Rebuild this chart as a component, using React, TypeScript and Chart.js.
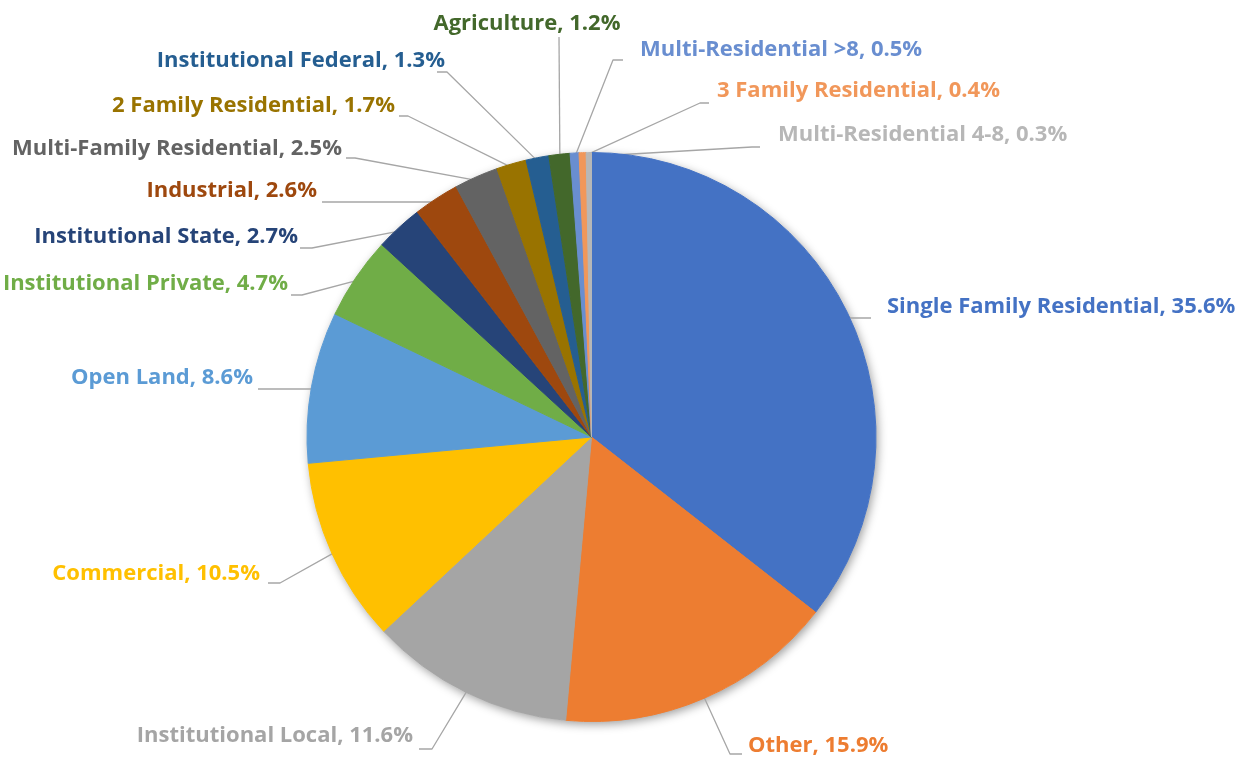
import React, { useEffect, useRef } from "react";
import { Chart, registerables } from "chart.js";

Chart.register(...registerables);

// ---- data ----
const categories: string[] = [
  "Single Family Residential",
  "Other",
  "Institutional Local",
  "Commercial",
  "Open Land",
  "Institutional Private",
  "Institutional State",
  "Industrial",
  "Multi-Family Residential",
  "2 Family Residential",
  "Institutional Federal",
  "Agriculture",
  "Multi-Residential >8",
  "3 Family Residential",
  "Multi-Residential 4-8",
];

const shares: number[] = [35.6, 15.9, 11.6, 10.5, 8.6, 4.7, 2.7, 2.6, 2.5, 1.7, 1.3, 1.2, 0.5, 0.4, 0.3];

const sliceColors: string[] = [
  "#4472C4",
  "#ED7D31",
  "#A5A5A5",
  "#FFC000",
  "#5B9BD5",
  "#70AD47",
  "#264478",
  "#9E480E",
  "#636363",
  "#997300",
  "#255E91",
  "#43682B",
  "#698ED0",
  "#F1975A",
  "#B7B7B7",
];

// ---- label layout (Excel-style manual placement), offsets from the pie centre ----
// align: text alignment; tx/by: text anchor x and baseline; ex/ey: leader elbow; lx: leader tail end
type Place = { align: CanvasTextAlign; tx: number; by: number; ex: number; ey: number; lx: number };
const labelPlacement: Place[] = [
  { align: "left", tx: 295.5, by: -124, ex: 259.5, ey: -119, lx: 279.5 },
  { align: "left", tx: 156.5, by: 315, ex: 138.5, ey: 317, lx: 150.5 },
  { align: "right", tx: -178.5, by: 305, ex: -159.5, ey: 312, lx: -172.5 },
  { align: "right", tx: -331.5, by: 143, ex: -311.5, ey: 146, lx: -323.5 },
  { align: "right", tx: -338.5, by: -53, ex: -280.5, ey: -48, lx: -333.5 },
  { align: "right", tx: -303.5, by: -147, ex: -289.5, ey: -142, lx: -300.5 },
  { align: "right", tx: -293.5, by: -194, ex: -279.5, ey: -189, lx: -291.5 },
  { align: "right", tx: -274.5, by: -240, ex: -159.5, ey: -235, lx: -269.5 },
  { align: "right", tx: -249.5, by: -282, ex: -236.5, ey: -279, lx: -245.5 },
  { align: "right", tx: -196.5, by: -325, ex: -183.5, ey: -321, lx: -192.5 },
  { align: "right", tx: -146.5, by: -370, ex: -144.5, ey: -365, lx: -154.5 },
  { align: "center", tx: -64.5, by: -407, ex: -32.5, ey: -400, lx: -32.5 },
  { align: "left", tx: 48.5, by: -381, ex: 21.5, ey: -377, lx: 31.5 },
  { align: "left", tx: 125.5, by: -340, ex: 108.5, ey: -334, lx: 117.5 },
  { align: "left", tx: 186.5, by: -296, ex: 160.5, ey: -290, lx: 168.5 },
];

const LABEL_FONT = "bold 22px 'Open Sans', Lato, sans-serif";

const excelLabels = {
  id: "excelLabels",
  beforeDatasetsDraw(chart: any) {
    const meta = chart.getDatasetMeta(0);
    if (!meta.data.length) return;
    const { x, y, outerRadius } = meta.data[0].getProps(["x", "y", "outerRadius"], true);
    const ctx: CanvasRenderingContext2D = chart.ctx;
    // soft outer shadow of the pie
    ctx.save();
    ctx.beginPath();
    ctx.arc(x, y, outerRadius, 0, Math.PI * 2);
    ctx.shadowColor = "rgba(0,0,0,0.38)";
    ctx.shadowBlur = 10;
    ctx.shadowOffsetX = 2;
    ctx.shadowOffsetY = 3;
    ctx.fillStyle = "#ffffff";
    ctx.fill();
    ctx.restore();
    // leader lines
    ctx.save();
    ctx.strokeStyle = "#A6A6A6";
    ctx.lineWidth = 1.3;
    ctx.lineJoin = "round";
    meta.data.forEach((arc: any, i: number) => {
      const p = labelPlacement[i];
      if (!p) return;
      const { startAngle, endAngle } = arc.getProps(["startAngle", "endAngle"], true);
      const mid = (startAngle + endAngle) / 2;
      const r = outerRadius - 4;
      ctx.beginPath();
      ctx.moveTo(x + Math.cos(mid) * r, y + Math.sin(mid) * r);
      ctx.lineTo(x + p.ex, y + p.ey);
      ctx.lineTo(x + p.lx, y + p.ey);
      ctx.stroke();
    });
    ctx.restore();
  },
  afterDatasetsDraw(chart: any) {
    const meta = chart.getDatasetMeta(0);
    if (!meta.data.length) return;
    const { x, y } = meta.data[0].getProps(["x", "y"], true);
    const ctx: CanvasRenderingContext2D = chart.ctx;
    const labels: string[] = chart.data.labels;
    const values: number[] = chart.data.datasets[0].data;
    ctx.save();
    ctx.font = LABEL_FONT;
    ctx.textBaseline = "alphabetic";
    meta.data.forEach((_arc: any, i: number) => {
      const p = labelPlacement[i];
      if (!p) return;
      ctx.textAlign = p.align;
      ctx.fillStyle = sliceColors[i];
      ctx.fillText(`${labels[i]}, ${values[i].toFixed(1)}%`, x + p.tx, y + p.by);
    });
    ctx.restore();
  },
};

export default function App() {
  const canvasRef = useRef<HTMLCanvasElement | null>(null);

  useEffect(() => {
    document.body.style.margin = "0";
    const canvas = canvasRef.current;
    if (!canvas) return;
    const chart = new Chart(canvas, {
      type: "pie",
      data: {
        labels: categories,
        datasets: [
          {
            data: shares,
            backgroundColor: sliceColors,
            borderColor: sliceColors,
            borderWidth: 1,
            hoverOffset: 0,
            offset: 0,
          },
        ],
      },
      options: {
        responsive: false,
        animation: false,
        layout: { padding: { left: 306.5, right: 374.5, top: 152, bottom: 35 } },
        plugins: {
          legend: { display: false },
          tooltip: { enabled: false },
        },
      },
      plugins: [excelLabels],
    });
    return () => chart.destroy();
  }, []);

  return (
    <div style={{ width: 1251, height: 757, background: "#ffffff" }}>
      <canvas ref={canvasRef} width={1251} height={757} style={{ display: "block" }} />
    </div>
  );
}
